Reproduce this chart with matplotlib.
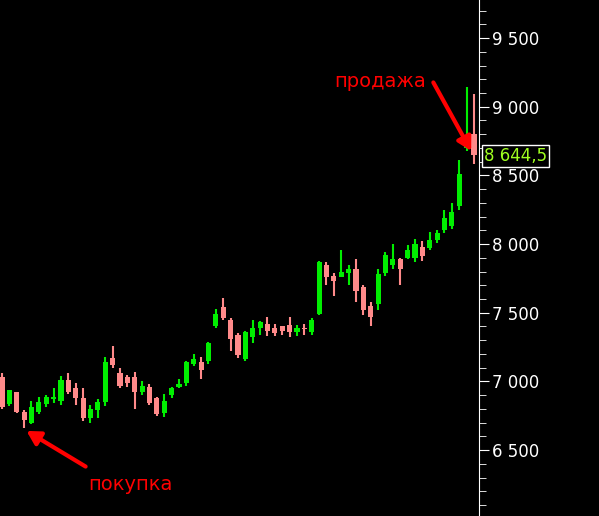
import matplotlib
matplotlib.use("Agg")
import matplotlib.pyplot as plt
from matplotlib.ticker import FuncFormatter, MultipleLocator

# OHLC candles
opens = [7030, 6835, 6920, 6780, 6700, 6780, 6835, 6870, 6860, 7010,
         6950, 6880, 6730, 6790, 6850, 7170, 7060, 7030, 7030, 6920,
         6960, 6880, 6770, 6900, 6960, 6990, 7130, 7140, 7150, 7400,
         7540, 7450, 7340, 7160, 7320, 7390, 7420, 7390, 7400, 7410,
         7360, 7390, 7360, 7490, 7850, 7770, 7760, 7790, 7820, 7690,
         7550, 7560, 7790, 7850, 7890, 7900, 7900, 7980, 7970, 8030,
         8100, 8130, 8280, 8700, 8800]
closes = [6810, 6937, 6780, 6720, 6810, 6850, 6890, 6885, 7010, 6920,
          6880, 6730, 6800, 6850, 7140, 7120, 6970, 6990, 6920, 6970,
          6840, 6760, 6860, 6950, 6980, 7140, 7160, 7080, 7280, 7490,
          7460, 7310, 7190, 7360, 7390, 7430, 7370, 7350, 7370, 7360,
          7390, 7380, 7450, 7870, 7760, 7730, 7800, 7820, 7660, 7520,
          7470, 7780, 7920, 7890, 7820, 7960, 8000, 7910, 8030, 8080,
          8190, 8230, 8510, 8740, 8645]
highs = [7060, 6940, 6925, 6790, 6860, 6890, 6900, 6950, 7040, 7060,
         6990, 6950, 6830, 6870, 7180, 7260, 7100, 7050, 7070, 7000,
         6980, 6890, 6910, 6960, 7020, 7150, 7200, 7180, 7290, 7530,
         7610, 7460, 7350, 7370, 7450, 7440, 7470, 7420, 7400, 7470,
         7410, 7420, 7460, 7880, 7870, 7790, 7960, 7850, 7890, 7700,
         7580, 7820, 7940, 8000, 7900, 7990, 8040, 8020, 8090, 8100,
         8250, 8300, 8610, 9140, 9090]
lows = [6800, 6820, 6770, 6660, 6690, 6760, 6810, 6840, 6830, 6910,
        6830, 6710, 6700, 6730, 6820, 7100, 6950, 6960, 6800, 6900,
        6830, 6750, 6740, 6880, 6950, 6970, 7110, 7020, 7130, 7390,
        7450, 7220, 7170, 7150, 7280, 7340, 7330, 7330, 7340, 7320,
        7330, 7340, 7340, 7480, 7700, 7620, 7760, 7700, 7580, 7480,
        7400, 7520, 7770, 7820, 7700, 7890, 7870, 7880, 7960, 8010,
        8080, 8110, 8250, 8680, 8580]
last_price = "8 644,5"

UP = "#00ee00"
DOWN = "#ff8a8a"

fig = plt.figure(figsize=(5.99, 5.16), dpi=100, facecolor="black")
ax = fig.add_axes([0, 0, 479 / 599, 1])
ax.set_facecolor("black")

for i, (o, c, h, l) in enumerate(zip(opens, closes, highs, lows)):
    col = UP if c >= o else DOWN
    ax.vlines(i, l, h, color=col, linewidth=1.5, zorder=2)
    ax.bar(i, abs(c - o) or 8, bottom=min(o, c), width=0.7, color=col, zorder=3)

ax.set_xlim(-0.27, 64.68)
ax.set_ylim(6020, 9777)
for s in ["left", "top", "bottom"]:
    ax.spines[s].set_visible(False)
ax.spines["right"].set_color("white")
ax.set_xticks([])
ax.yaxis.tick_right()
ax.yaxis.set_major_locator(MultipleLocator(500))
ax.yaxis.set_minor_locator(MultipleLocator(100))
ax.yaxis.set_major_formatter(FuncFormatter(lambda v, p: f"{int(v):,}".replace(",", " ")))
ax.tick_params(axis="y", which="both", colors="white", direction="out", labelsize=12)
ax.tick_params(axis="y", which="major", length=7, pad=2)
ax.tick_params(axis="y", which="minor", length=5)

ax.text(65.3, 8644.5, last_price, color="#a0ff20", fontsize=12, va="center", ha="left",
        clip_on=False, bbox=dict(facecolor="black", edgecolor="white", pad=1.5))

arrow = dict(arrowstyle="-|>,head_length=0.8,head_width=0.45", color="red", lw=3)
ax.annotate("", xy=(3, 6650), xytext=(88, 48), textcoords="figure pixels", arrowprops=arrow)
fig.text(88 / 599, 1 - 490 / 516, "покупка", color="red", fontsize=14)
ax.annotate("", xy=(63.8, 8660), xytext=(432, 436), textcoords="figure pixels", arrowprops=arrow)
fig.text(334 / 599, 1 - 87 / 516, "продажа", color="red", fontsize=14)

fig.savefig("out.png", dpi=100, facecolor="black")
